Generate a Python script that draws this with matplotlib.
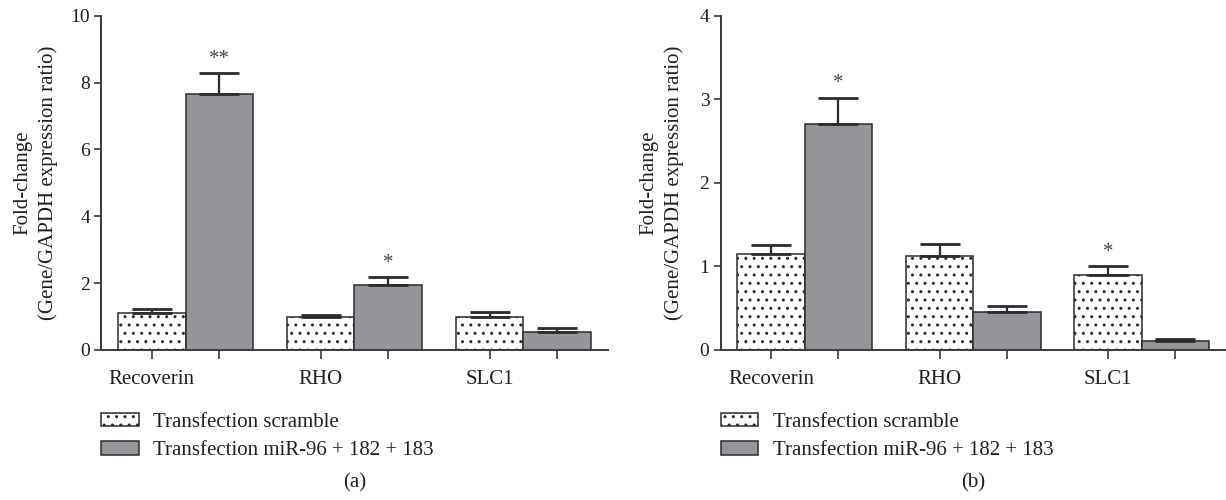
import matplotlib
matplotlib.use('Agg')
import matplotlib.pyplot as plt
import numpy as np

genes = ['Recoverin', 'RHO', 'SLC1']
series = ['Transfection scramble', 'Transfection miR-96 + 182 + 183']

# panel (a)
a_scr = [1.12, 1.00, 1.00]
a_scr_err = [0.10, 0.06, 0.15]
a_mir = [7.66, 1.93, 0.55]
a_mir_err = [0.63, 0.24, 0.10]
a_stars_mir = ['**', '*', '']
a_stars_scr = ['', '', '']

# panel (b)
b_scr = [1.145, 1.13, 0.90]
b_scr_err = [0.11, 0.14, 0.10]
b_mir = [2.70, 0.46, 0.108]
b_mir_err = [0.32, 0.07, 0.02]
b_stars_mir = ['*', '', '']
b_stars_scr = ['', '', '*']

plt.rcParams['font.family'] = ['Liberation Serif', 'DejaVu Serif']
plt.rcParams['hatch.linewidth'] = 1.0
TXT = '#231f20'
EDGE = '#2b2b2b'
GREY = '#939598'
FS = 15

fig = plt.figure(figsize=(12.26, 5.0), dpi=100)


def panel(rect, scr, scr_err, mir, mir_err, st_scr, st_mir, ymax, yticks, off, tag, labx):
    ax = fig.add_axes(rect)
    x = np.arange(len(genes))
    w = 0.4
    ekw = dict(ecolor=EDGE, elinewidth=1.6, capthick=2.0)
    b1 = ax.bar(x - w / 2, scr, w, color='white', edgecolor=EDGE, linewidth=1.1,
                hatch='..', yerr=[np.zeros(3), scr_err], capsize=14.5,
                error_kw=ekw, label=series[0])
    b2 = ax.bar(x + w / 2, mir, w, color=GREY, edgecolor=EDGE, linewidth=1.1,
                yerr=[np.zeros(3), mir_err], capsize=14.5, error_kw=ekw,
                label=series[1])
    for i in range(3):
        if st_scr[i]:
            ax.text(x[i] - w / 2, scr[i] + scr_err[i] + off, st_scr[i],
                    ha='center', va='bottom', fontsize=FS, color='#444444')
        if st_mir[i]:
            ax.text(x[i] + w / 2, mir[i] + mir_err[i] + off, st_mir[i],
                    ha='center', va='bottom', fontsize=FS, color='#444444')
    ax.set_xlim(-0.5, 2.5)
    ax.set_ylim(0, ymax)
    ax.set_yticks(yticks)
    ax.set_xticks(np.ravel([[xi - w / 2, xi + w / 2] for xi in x]))
    ax.set_xticklabels(['Recoverin', '', 'RHO', '', 'SLC1', ''])
    for s in ['top', 'right']:
        ax.spines[s].set_visible(False)
    for s in ['left', 'bottom']:
        ax.spines[s].set_linewidth(1.4)
        ax.spines[s].set_color('#3a3a3a')
    ax.tick_params(axis='y', length=5, width=1.2, pad=3, labelsize=14,
                   colors='#3a3a3a', labelcolor=TXT)
    ax.tick_params(axis='x', length=6.5, width=1.2, pad=8, labelsize=FS,
                   colors='#3a3a3a', labelcolor=TXT)
    ax.set_ylabel('Fold-change\n(Gene/GAPDH expression ratio)', fontsize=FS,
                  color=TXT, linespacing=1.4)
    ax.yaxis.set_label_coords(labx, 0.5)
    leg = fig.legend(handles=[b1, b2], loc='upper left',
                     bbox_to_anchor=(rect[0], 0.174), bbox_transform=fig.transFigure,
                     frameon=False, fontsize=FS, borderpad=0, borderaxespad=0,
                     handlelength=1.8, handleheight=0.6, handletextpad=0.7,
                     labelspacing=0.45)
    for t in leg.get_texts():
        t.set_color(TXT)
    fig.text(rect[0] + rect[2] / 2, 0.034, tag, ha='center', va='center',
             fontsize=FS, color=TXT)
    return ax


panel([0.0824, 0.300, 0.4135, 0.6686], a_scr, a_scr_err, a_mir, a_mir_err,
      a_stars_scr, a_stars_mir, 10, [0, 2, 4, 6, 8, 10], 0.12, '(a)', -0.085)
panel([0.5877, 0.300, 0.4123, 0.6686], b_scr, b_scr_err, b_mir, b_mir_err,
      b_stars_scr, b_stars_mir, 4, [0, 1, 2, 3, 4], 0.05, '(b)', -0.072)

fig.savefig('out.png', dpi=100)
